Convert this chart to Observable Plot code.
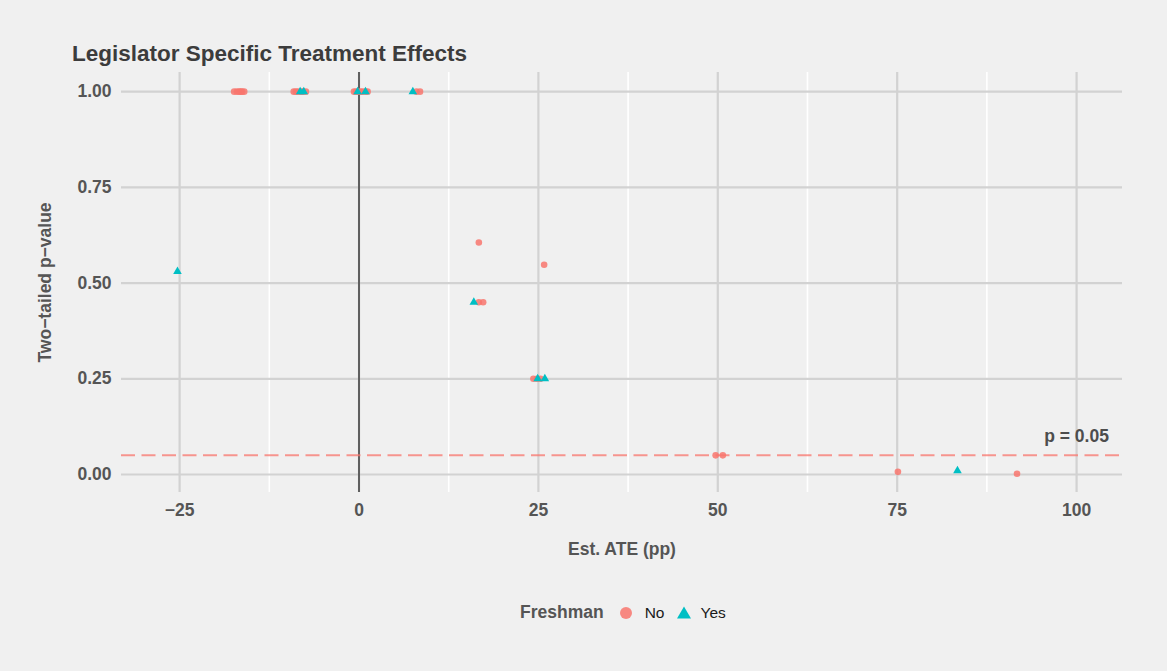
<!DOCTYPE html>
<html><head><meta charset="utf-8">
<script src="https://cdn.jsdelivr.net/npm/d3@7"></script>
<script src="https://cdn.jsdelivr.net/npm/@observablehq/plot@0.6"></script>
<style>
html,body{margin:0;padding:0;background:#F0F0F0;width:1167px;height:671px;overflow:hidden;font-family:"Liberation Sans",Arial,sans-serif;}
#wrap{position:relative;width:1167px;height:671px;}
#title{position:absolute;left:72px;top:42.5px;font-size:22.5px;line-height:1;font-weight:bold;color:#3C3C3C;white-space:nowrap;}
#chart{position:absolute;left:0;top:0;}
#legend{position:absolute;left:520px;top:604px;height:17.5px;display:flex;align-items:center;line-height:1;white-space:nowrap;}
#legend .ttl{font-size:17.5px;font-weight:bold;color:#555;margin-right:14px;}
#legend .lab{font-size:15.5px;color:#1A1A1A;}
</style></head><body>
<div id="wrap">
  <div id="chart"></div>
  <div id="title">Legislator Specific Treatment Effects</div>
  <div id="legend"></div>
</div>
<script>
// Data: Freshman = No (circles)
const noX = [-17.4, -17.0, -16.7, -16.3, -16.0, -16.5,
             -9.1, -8.8, -8.5, -8.1, -7.8, -7.4,
             -0.7, -0.4, -0.1, 0.2, 0.5, 0.9, 1.2,
             8.0, 8.5,
             16.7, 25.8,
             16.7, 17.3,
             24.3, 24.8, 25.3,
             49.7, 50.7,
             75.1, 91.7];
const noY = [1, 1, 1, 1, 1, 1,
             1, 1, 1, 1, 1, 1,
             1, 1, 1, 1, 1, 1, 1,
             1, 1,
             0.606, 0.548,
             0.45, 0.45,
             0.25, 0.25, 0.25,
             0.05, 0.05,
             0.007, 0.002];
// Freshman = Yes (triangles)
const yesX = [-8.2, -7.7, -0.2, 0.9, 7.5, 16.0, 24.9, 25.9, -25.3, 83.4];
const yesY = [1, 1, 1, 1, 1, 0.45, 0.25, 0.25, 0.53, 0.01];

const groups = ["No", "Yes"];
const groupColors = ["#F8766D", "#00BFC4"];
const xTicks = [-25, 0, 25, 50, 75, 100];
const xMinor = [-12.5, 12.5, 37.5, 62.5, 87.5];
const yTicks = [0, 0.25, 0.5, 0.75, 1];
const pThreshold = [0.05];
const annotation = [{x: 100, y: 0.1, text: "p = 0.05"}];

const plot = Plot.plot({
  width: 1167,
  height: 580,
  marginLeft: 121,
  marginRight: 45,
  marginTop: 72,
  marginBottom: 88,
  style: {background: "#F0F0F0", fontFamily: "'Liberation Sans', Arial, sans-serif", fontSize: "17.5px", fontWeight: "bold", color: "#555"},
  x: {domain: [-33.1, 106.4]},
  y: {domain: [-0.047, 1.05]},
  marks: [
    Plot.ruleX(xMinor, {stroke: "#FFFFFF", strokeWidth: 1.6}),
    Plot.ruleX(xTicks, {stroke: "#D2D2D2", strokeWidth: 2.2}),
    Plot.ruleY(yTicks, {stroke: "#D2D2D2", strokeWidth: 2.2}),
    Plot.ruleX([0], {stroke: "#5F5F5F", strokeWidth: 2}),
    Plot.ruleY(pThreshold, {stroke: "#F8766D", strokeOpacity: 0.75, strokeWidth: 2, strokeDasharray: "14,6.5"}),
    Plot.text(annotation, {x: "x", y: "y", text: "text", fontSize: 17.5, fontWeight: "bold", fill: "#4D4D4D"}),
    Plot.dot(noX, {x: noX, y: noY, r: 3.3, fill: groupColors[0], fillOpacity: 0.85, stroke: "none"}),
    Plot.dot(yesX, {x: yesX, y: yesY, r: 3.2, symbol: "triangle", fill: groupColors[1], stroke: "none"}),
    Plot.axisX({ticks: xTicks, tickSize: 0, tickPadding: 11, label: "Est. ATE (pp)", labelAnchor: "center", labelArrow: "none", labelOffset: 62}),
    Plot.axisY({ticks: yTicks, tickSize: 0, tickPadding: 10, tickFormat: d3.format(".2f"), label: "Two−tailed p−value", labelAnchor: "center", labelArrow: "none", labelOffset: 83})
  ]
});
document.getElementById("chart").appendChild(plot);

// Legend
const leg = document.getElementById("legend");
const t = document.createElement("span"); t.className = "ttl"; t.textContent = "Freshman"; leg.appendChild(t);
const shapes = ['<circle cx="8" cy="8" r="6"/>', '<path d="M8,1.5 L15,13.5 L1,13.5 Z"/>'];
const labMargins = [["11px", "12px"], ["8px", "0px"]];
groups.forEach((g, i) => {
  const s = document.createElementNS("http://www.w3.org/2000/svg", "svg");
  s.setAttribute("width", "16"); s.setAttribute("height", "16");
  s.innerHTML = shapes[i];
  s.firstChild.setAttribute("fill", groupColors[i]);
  if (i === 0) s.firstChild.setAttribute("fill-opacity", "0.85");
  leg.appendChild(s);
  const l = document.createElement("span"); l.className = "lab"; l.textContent = g;
  l.style.marginLeft = labMargins[i][0]; l.style.marginRight = labMargins[i][1];
  leg.appendChild(l);
});
</script>
</body></html>
